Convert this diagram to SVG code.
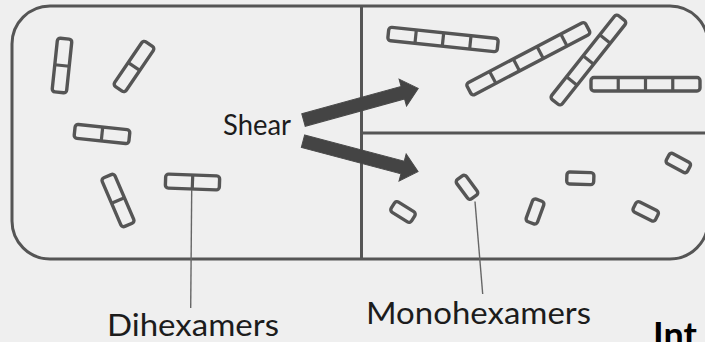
<svg xmlns="http://www.w3.org/2000/svg" width="705" height="342" viewBox="0 0 705 342">
  <style>
    .unit { fill: #efefef; stroke: #555; stroke-width: 3.4; }
    .sep { stroke: #555; stroke-width: 3.2; }
    .frame { fill: none; stroke: #555; stroke-width: 3; }
    .leader { stroke: #666; stroke-width: 1.4; fill: none; }
    .arrow { fill: #444; stroke: #4a4a4a; stroke-width: 1; }
    .label { font-family: Lato, "Liberation Sans", sans-serif; fill: #1c1c1c; }
  </style>
  <rect width="705" height="342" fill="#efefef"/>

  <!-- outer chamber and panel dividers -->
  <g id="chamber">
    <rect class="frame" x="12" y="6" width="696" height="253" rx="38"/>
    <line class="frame" x1="361.5" y1="6" x2="361.5" y2="259"/>
    <line class="frame" x1="361.5" y1="133" x2="708" y2="133"/>
  </g>

  <!-- dihexamers (left panel) -->
  <g id="dimer-1" transform="translate(62 65.5) rotate(-84)">
    <rect class="unit" x="-27" y="-7.25" width="54" height="14.5" rx="3"/>
    <line class="sep" x1="0" y1="-7.25" x2="0" y2="7.25"/>
  </g>
  <g id="dimer-2" transform="translate(134 66.5) rotate(-55.8)">
    <rect class="unit" x="-27" y="-7" width="54" height="14" rx="3"/>
    <line class="sep" x1="0" y1="-7" x2="0" y2="7"/>
  </g>
  <g id="dimer-3" transform="translate(102 134) rotate(6)">
    <rect class="unit" x="-27.5" y="-7" width="55" height="14" rx="3"/>
    <line class="sep" x1="0" y1="-7" x2="0" y2="7"/>
  </g>
  <g id="dimer-4" transform="translate(118 200.5) rotate(66.7)">
    <rect class="unit" x="-26.5" y="-7" width="53" height="14" rx="3"/>
    <line class="sep" x1="0" y1="-7" x2="0" y2="7"/>
  </g>
  <g id="dimer-5" transform="translate(192.5 182) rotate(2)">
    <rect class="unit" x="-27" y="-7" width="54" height="14" rx="3"/>
    <line class="sep" x1="0" y1="-7" x2="0" y2="7"/>
  </g>

  <!-- stacked chains (upper right panel) -->
  <g id="chain-1" transform="translate(443 39.5) rotate(6)">
    <rect class="unit" x="-55" y="-6.75" width="110" height="13.5" rx="3"/>
    <line class="sep" x1="-27.5" y1="-6.75" x2="-27.5" y2="6.75"/>
    <line class="sep" x1="0" y1="-6.75" x2="0" y2="6.75"/>
    <line class="sep" x1="27.5" y1="-6.75" x2="27.5" y2="6.75"/>
  </g>
  <g id="chain-2" transform="translate(528.3 58.7) rotate(-27.7)">
    <rect class="unit" x="-67" y="-6.75" width="134" height="13.5" rx="3"/>
    <line class="sep" x1="-40.2" y1="-6.75" x2="-40.2" y2="6.75"/>
    <line class="sep" x1="-13.4" y1="-6.75" x2="-13.4" y2="6.75"/>
    <line class="sep" x1="13.4" y1="-6.75" x2="13.4" y2="6.75"/>
    <line class="sep" x1="40.2" y1="-6.75" x2="40.2" y2="6.75"/>
  </g>
  <g id="chain-3" transform="translate(588.4 60) rotate(-51.6)">
    <rect class="unit" x="-53.5" y="-6.75" width="107" height="13.5" rx="3"/>
    <line class="sep" x1="-26.75" y1="-6.75" x2="-26.75" y2="6.75"/>
    <line class="sep" x1="0" y1="-6.75" x2="0" y2="6.75"/>
    <line class="sep" x1="26.75" y1="-6.75" x2="26.75" y2="6.75"/>
  </g>
  <g id="chain-4" transform="translate(645.5 84.3)">
    <rect class="unit" x="-54.5" y="-6.75" width="109" height="13.5" rx="3"/>
    <line class="sep" x1="-27.25" y1="-6.75" x2="-27.25" y2="6.75"/>
    <line class="sep" x1="0" y1="-6.75" x2="0" y2="6.75"/>
    <line class="sep" x1="27.25" y1="-6.75" x2="27.25" y2="6.75"/>
  </g>

  <!-- monohexamers (lower right panel) -->
  <g id="mono-1" transform="translate(403 212) rotate(32)">
    <rect class="unit" x="-12" y="-6" width="24" height="12" rx="3"/>
  </g>
  <g id="mono-2" transform="translate(467 187.3) rotate(53.6)">
    <rect class="unit" x="-12" y="-6" width="24" height="12" rx="3"/>
  </g>
  <g id="mono-3" transform="translate(535 211.5) rotate(-70)">
    <rect class="unit" x="-12" y="-6" width="24" height="12" rx="3"/>
  </g>
  <g id="mono-4" transform="translate(580.3 178.3) rotate(2)">
    <rect class="unit" x="-13.5" y="-6" width="27" height="12" rx="3"/>
  </g>
  <g id="mono-5" transform="translate(678.3 163) rotate(28.5)">
    <rect class="unit" x="-12" y="-5.75" width="24" height="11.5" rx="3"/>
  </g>
  <g id="mono-6" transform="translate(645.7 211.4) rotate(26.9)">
    <rect class="unit" x="-12.5" y="-5.75" width="25" height="11.5" rx="3"/>
  </g>

  <!-- shear arrows and leader lines -->
  <g id="connectors">
    <polygon class="arrow" transform="translate(303.5 120) rotate(-15.4)"
             points="0,-6.5 103,-6.5 103,-14 119,0 103,14 103,6.5 0,6.5"/>
    <polygon class="arrow" transform="translate(303 141.2) rotate(14.8)"
             points="0,-6.5 103,-6.5 103,-14 119,0 103,14 103,6.5 0,6.5"/>
    <line class="leader" x1="191.7" y1="190" x2="190.7" y2="308"/>
    <line class="leader" x1="475" y1="201.5" x2="482.7" y2="294"/>
  </g>

  <!-- labels -->
  <g id="labels">
    <text class="label" x="223" y="135" font-size="28" textLength="68" lengthAdjust="spacingAndGlyphs">Shear</text>
    <text class="label" x="107" y="336" font-size="30" textLength="172" lengthAdjust="spacingAndGlyphs">Dihexamers</text>
    <text class="label" x="366" y="323.5" font-size="31" textLength="225" lengthAdjust="spacingAndGlyphs">Monohexamers</text>
    <text x="653" y="348" font-family="Lato, 'Liberation Sans', sans-serif" font-weight="bold" font-size="36" fill="#000">Int</text>
  </g>
</svg>
